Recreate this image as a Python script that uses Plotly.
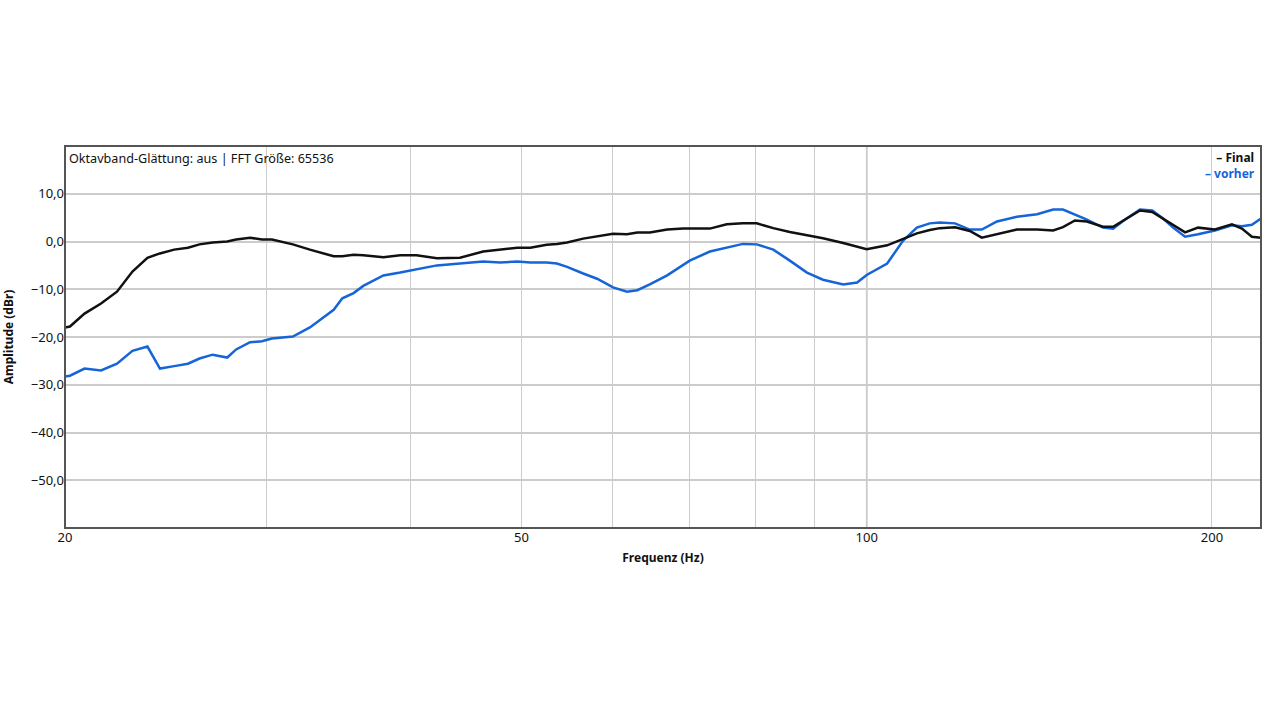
#!/usr/bin/env python3
import plotly.graph_objects as go

# ---- DATA ----

# frequency points (Hz), shared by both measurements
freq = [20.0, 20.2, 20.8, 21.5, 22.2, 22.9, 23.6, 24.2, 24.9, 25.6,
        26.2, 26.9, 27.7, 28.2, 29.0, 29.7, 30.3, 31.6, 32.7, 33.6,
        34.3, 34.9, 35.7, 36.4, 37.9, 39.2, 40.5, 42.2, 44.2, 46.3,
        47.9, 49.6, 50.9, 52.6, 53.7, 54.8, 56.6, 58.2, 60.1, 61.8,
        63.1, 64.7, 67.0, 69.2, 70.1, 73.0, 75.5, 78.0, 80.2, 82.9,
        85.7, 88.7, 91.6, 95.4, 98.1, 100.0, 104.2, 107.6, 110.6, 113.5,
        115.8, 119.4, 123.0, 126.0, 129.9, 135.2, 140.8, 145.4, 148.3, 151.9,
        155.6, 160.7, 164.0, 168.0, 173.1, 177.4, 181.3, 185.0, 189.5, 194.5,
        201.2, 208.2, 212.4, 216.7, 220.7]

# amplitude (dBr) after correction
final = [-18.0, -17.8, -15.1, -13.0, -10.5, -6.3, -3.4, -2.5, -1.7, -1.3,
         -0.6, -0.2, 0.0, 0.4, 0.8, 0.4, 0.4, -0.6, -1.7, -2.5,
         -3.1, -3.1, -2.8, -2.9, -3.3, -2.9, -2.9, -3.5, -3.4, -2.1,
         -1.7, -1.3, -1.3, -0.7, -0.5, -0.2, 0.6, 1.1, 1.6, 1.5,
         1.9, 1.9, 2.5, 2.7, 2.7, 2.7, 3.6, 3.8, 3.8, 2.8,
         2.0, 1.3, 0.7, -0.3, -1.1, -1.6, -0.8, 0.5, 1.7, 2.4,
         2.8, 3.0, 2.2, 0.8, 1.6, 2.5, 2.5, 2.3, 3.0, 4.4,
         4.2, 3.1, 3.1, 4.6, 6.5, 6.2, 4.8, 3.6, 1.9, 2.9,
         2.5, 3.6, 2.7, 1.0, 0.8]

# amplitude (dBr) before correction
vorher = [-28.3, -28.1, -26.6, -27.0, -25.6, -22.9, -22.0, -26.6, -26.1, -25.6,
          -24.5, -23.7, -24.3, -22.6, -21.1, -20.9, -20.3, -19.9, -18.0, -16.0,
          -14.3, -11.9, -10.8, -9.3, -7.1, -6.5, -5.8, -5.0, -4.6, -4.2,
          -4.4, -4.2, -4.4, -4.4, -4.6, -5.3, -6.7, -7.8, -9.6, -10.5,
          -10.2, -9.0, -7.1, -5.0, -4.0, -2.1, -1.3, -0.5, -0.6, -1.7,
          -4.0, -6.5, -8.0, -9.0, -8.6, -7.0, -4.6, 0.2, 2.9, 3.8,
          4.0, 3.8, 2.5, 2.5, 4.2, 5.2, 5.7, 6.7, 6.7, 5.6,
          4.6, 2.9, 2.7, 4.6, 6.7, 6.5, 4.8, 2.9, 1.0, 1.5,
          2.3, 3.4, 3.2, 3.5, 4.8]

x_grid = [20, 30, 40, 50, 60, 70, 80, 90, 100, 200]
x_labels = ["20", "", "", "50", "", "", "", "", "100", "200"]
y_ticks = [10, 0, -10, -20, -30, -40, -50]
y_labels = ["10,0", "0,0", "\u221210,0", "\u221220,0", "\u221230,0", "\u221240,0", "\u221250,0"]

FONT = "Noto Sans"
BLUE = "#1565d8"
BLACK = "#111111"

# ---- GRAPH ----

fig = go.Figure()
fig.add_trace(go.Scatter(x=freq, y=vorher, mode="lines", name="vorher",
                         line=dict(color=BLUE, width=2.5)))
fig.add_trace(go.Scatter(x=freq, y=final, mode="lines", name="Final",
                         line=dict(color=BLACK, width=2.5)))

fig.update_xaxes(type="log", range=[1.30103, 2.3438],
                 tickvals=x_grid, ticktext=x_labels, automargin=False,
                 showgrid=True, gridcolor="#cccccc", gridwidth=1,
                 zeroline=False, ticks="", showline=False,
                 tickfont=dict(family=FONT, size=13, color="#111"),
                 title=dict(text="<b>Frequenz (Hz)</b>", standoff=8,
                            font=dict(family=FONT, size=12, color="#111")))
fig.update_yaxes(range=[-60, 20], tickvals=y_ticks, ticktext=y_labels,
                 automargin=False,
                 showgrid=True, gridcolor="#cccccc", gridwidth=1.5,
                 zeroline=False, ticks="", showline=False,
                 tickfont=dict(family=FONT, size=13, color="#111"),
                 title=dict(text="<b>Amplitude (dBr)</b>", standoff=18,
                            font=dict(family=FONT, size=12, color="#111")))

# darker line at 100 Hz
fig.add_shape(type="line", xref="x", yref="paper", x0=100, x1=100, y0=0, y1=1,
              line=dict(color="#aaaaaa", width=1.5), layer="below")
# frame around the plot area
fig.add_shape(type="rect", xref="paper", yref="paper", x0=0, x1=1, y0=0, y1=1,
              line=dict(color="#555555", width=2))

fig.add_annotation(text="Oktavband-Glättung: aus | FFT Größe: 65536",
                   xref="paper", yref="paper", x=0.002, y=0.995,
                   xanchor="left", yanchor="top", showarrow=False,
                   font=dict(family=FONT, size=12.6, color="#111"))
# legend drawn as two coloured lines of text
fig.add_annotation(text=f"<b>\u2013 Final</b><br><span style='color:{BLUE}'><b>\u2013 vorher</b></span>",
                   xref="paper", yref="paper", align="right",
                   x=0.997, y=0.997, xanchor="right", yanchor="top", showarrow=False,
                   font=dict(family=FONT, size=12, color=BLACK))

fig.update_layout(width=1263, height=708, showlegend=False,
                  plot_bgcolor="white", paper_bgcolor="white",
                  margin=dict(l=65, r=2, t=146, b=180))

# drop the page's default body margin so the figure fills the window
fig.write_html("out.html", config={"displayModeBar": False},
               post_script="document.body.style.margin='0';document.body.style.overflow='hidden';")
